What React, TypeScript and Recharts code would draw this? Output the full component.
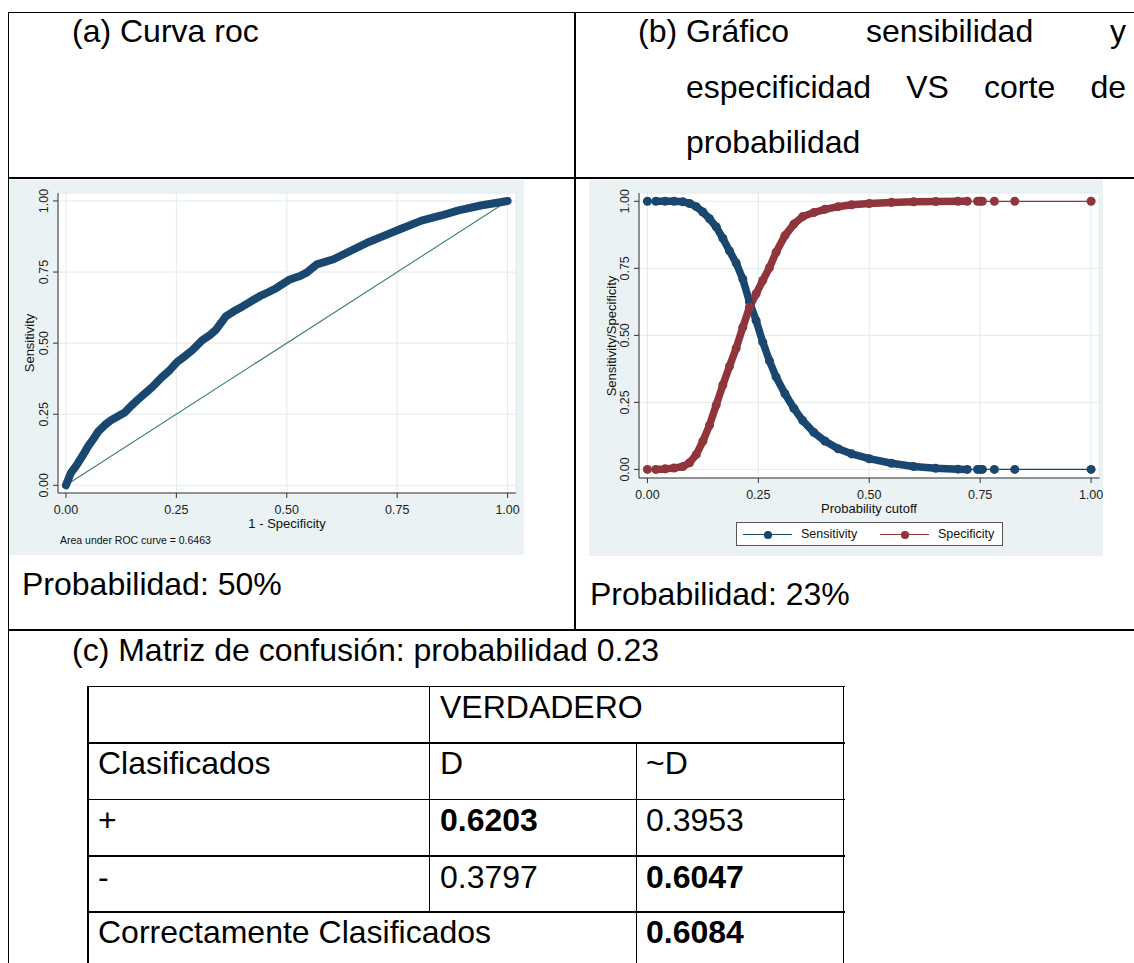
import React from 'react';
import { ScatterChart, Scatter, XAxis, YAxis, ZAxis, CartesianGrid, ReferenceLine, Legend } from 'recharts';

// ROC curve (1 - specificity vs sensitivity)
const rocFpr = [0, 0.005, 0.011, 0.02, 0.027, 0.038, 0.05, 0.062, 0.074, 0.088, 0.103, 0.118, 0.133, 0.148, 0.164, 0.18, 0.195, 0.217, 0.235, 0.252, 0.27, 0.286, 0.309, 0.325, 0.339, 0.362, 0.38, 0.4, 0.42, 0.439, 0.458, 0.477, 0.507, 0.53, 0.545, 0.568, 0.606, 0.645, 0.683, 0.721, 0.759, 0.805, 0.85, 0.889, 0.942, 0.97, 1];
const rocTpr = [0, 0.02, 0.043, 0.062, 0.078, 0.105, 0.137, 0.163, 0.191, 0.212, 0.23, 0.243, 0.256, 0.28, 0.303, 0.325, 0.345, 0.38, 0.405, 0.434, 0.455, 0.475, 0.511, 0.527, 0.546, 0.594, 0.612, 0.629, 0.648, 0.665, 0.679, 0.694, 0.724, 0.736, 0.748, 0.777, 0.795, 0.825, 0.854, 0.878, 0.902, 0.931, 0.949, 0.967, 0.985, 0.992, 1];

// sensitivity / specificity vs probability cutoff
const cutoffs = [0, 0.019, 0.04, 0.06, 0.08, 0.095, 0.11, 0.125, 0.14, 0.155, 0.17, 0.185, 0.2, 0.215, 0.23, 0.245, 0.26, 0.275, 0.29, 0.31, 0.33, 0.35, 0.375, 0.4, 0.43, 0.46, 0.5, 0.55, 0.6, 0.65, 0.7, 0.721, 0.744, 0.751, 0.755, 0.782, 0.828, 1];
const sensitivity = [1, 1, 1, 1, 0.998, 0.992, 0.98, 0.96, 0.935, 0.905, 0.862, 0.815, 0.77, 0.71, 0.625, 0.555, 0.475, 0.405, 0.345, 0.282, 0.228, 0.182, 0.138, 0.106, 0.077, 0.058, 0.04, 0.023, 0.011, 0.004, 0.001, 0, 0, 0, 0, 0, 0, 0];
const specificity = [0, 0, 0.002, 0.005, 0.011, 0.025, 0.055, 0.105, 0.165, 0.24, 0.315, 0.385, 0.452, 0.53, 0.605, 0.655, 0.705, 0.752, 0.81, 0.872, 0.915, 0.943, 0.958, 0.97, 0.98, 0.987, 0.992, 0.996, 0.998, 0.999, 1, 1, 1, 1, 1, 1, 1, 1];

const axisTicks = [0, 0.25, 0.5, 0.75, 1];

const legendItems = [
  { name: 'Sensitivity', color: '#1A476F' },
  { name: 'Specificity', color: '#90353B' },
];

// confusion matrix at cutoff 0.23
const matrixCols = ['D', '~D'];
const matrixRows = [
  { label: '+', values: ['0.6203', '0.3953'], bold: [true, false] },
  { label: '-', values: ['0.3797', '0.6047'], bold: [false, true] },
];
const correctLabel = 'Correctamente Clasificados';
const correctValue = '0.6084';

const NAVY = '#1A476F';
const MAROON = '#90353B';
const BG = '#EAF2F3';
const FONT = '"Liberation Sans", Arial, sans-serif';
const BODY_SIZE = 32;

const rocData = rocFpr.map((x, i) => ({ x, y: rocTpr[i] }));
const sensData = cutoffs.map((x, i) => ({ x, y: sensitivity[i] }));
const specData = cutoffs.map((x, i) => ({ x, y: specificity[i] }));
const dense = (d: { x: number; y: number }[]) => d.filter(p => p.x >= 0.019 && p.x <= 0.721);

const NoDot = () => <g />;

const RotTick = ({ x, y, payload }: any) => (
  <text x={x} y={y} transform={`rotate(-90 ${x} ${y})`} textAnchor="middle" fontSize={12.5} fill="#222" fontFamily={FONT}>
    {Number(payload.value).toFixed(2)}
  </text>
);

const Para = ({ x, cy, bold, children }: any) => (
  <div style={{ position: 'absolute', left: x, top: cy - 20, height: 40, lineHeight: '40px', fontSize: BODY_SIZE, whiteSpace: 'nowrap', fontWeight: bold ? 700 : 400 }}>
    {children}
  </div>
);

const Justified = ({ x, cy, width, children }: any) => (
  <div style={{ position: 'absolute', left: x, top: cy - 20, width, height: 40, lineHeight: '40px', fontSize: BODY_SIZE, textAlign: 'justify', textAlignLast: 'justify' as any }}>
    {children}
  </div>
);

const AxisTitle = ({ cx, cy, rotate, size = 13, children }: any) => (
  <div style={{ position: 'absolute', left: cx, top: cy, fontSize: size, lineHeight: 1, whiteSpace: 'nowrap', color: '#111', transform: `translate(-50%, -50%)${rotate ? ' rotate(-90deg)' : ''}` }}>
    {children}
  </div>
);

const Rule = ({ x, y, w, h }: any) => (
  <div style={{ position: 'absolute', left: x, top: y, width: w, height: h, background: '#000' }} />
);

const LegendBox = () => (
  <div style={{ position: 'relative', width: 267, height: 24, boxSizing: 'border-box', border: '1px solid #555', background: '#fff', fontFamily: FONT, fontSize: 12.5, color: '#111' }}>
    {legendItems.map((it, i) => {
      const left = i === 0 ? 6 : 143;
      return (
        <React.Fragment key={it.name}>
          <div style={{ position: 'absolute', left, top: 11, width: 49, height: 1.2, background: it.color }} />
          <div style={{ position: 'absolute', left: left + 21, top: 8, width: 7.5, height: 7.5, borderRadius: '50%', background: it.color }} />
          <div style={{ position: 'absolute', left: left + 58, top: 4, lineHeight: '14px' }}>{it.name}</div>
        </React.Fragment>
      );
    })}
  </div>
);

const xAxisProps = {
  type: 'number' as const,
  dataKey: 'x',
  ticks: axisTicks,
  allowDataOverflow: true,
  tickFormatter: (v: number) => v.toFixed(2),
  tick: { fill: '#222', fontSize: 12.5, fontFamily: FONT },
  tickSize: 5,
  tickMargin: 7,
  height: 30,
  axisLine: { stroke: '#333' },
  tickLine: { stroke: '#333' },
};

const yAxisProps = {
  type: 'number' as const,
  dataKey: 'y',
  ticks: axisTicks,
  allowDataOverflow: true,
  tick: <RotTick />,
  tickSize: 5,
  tickMargin: 5,
  axisLine: { stroke: '#333' },
  tickLine: { stroke: '#333' },
};

export default function App() {
  return (
    <div style={{ position: 'absolute', left: 0, top: 0, width: 1134, height: 963, overflow: 'hidden', background: '#fff', fontFamily: FONT, color: '#000' }}>
      {/* outer table rules */}
      <Rule x={7.5} y={11.5} w={1127} h={1.6} />
      <Rule x={7.5} y={176.5} w={1127} h={2} />
      <Rule x={7.5} y={629} w={1127} h={2} />
      <Rule x={7.5} y={11.5} w={1.6} h={952} />
      <Rule x={574.3} y={11.5} w={1.7} h={619} />

      {/* header cells */}
      <Para x={72} cy={31}>(a) Curva roc</Para>
      <Para x={638} cy={31}>(b)</Para>
      <Justified x={686} cy={31} width={440}>Gráfico sensibilidad y</Justified>
      <Justified x={686} cy={87} width={440}>especificidad VS corte de</Justified>
      <Para x={686} cy={142}>probabilidad</Para>

      {/* (a) ROC curve */}
      <div style={{ position: 'absolute', left: 9, top: 180, width: 515, height: 375, background: BG }}>
        <ScatterChart width={515} height={375} margin={{ top: 13, right: 8, bottom: 32, left: 0 }}>
          <CartesianGrid stroke="#E2EAEC" fill="#fff" />
          <XAxis {...xAxisProps} domain={[-0.018, 1.019]} />
          <YAxis {...yAxisProps} width={49} domain={[-0.027, 1.028]} />
          <ZAxis range={[44, 44]} />
          <ReferenceLine segment={[{ x: 0, y: 0 }, { x: 1, y: 1 }]} stroke="#3F7F72" strokeWidth={1.1} />
          <Scatter data={rocData} fill={NAVY} shape={<NoDot />} line={{ stroke: NAVY, strokeWidth: 8, strokeLinejoin: 'round', strokeLinecap: 'round' }} isAnimationActive={false} />
        </ScatterChart>
      </div>
      <AxisTitle cx={28.5} cy={343} rotate>Sensitivity</AxisTitle>
      <AxisTitle cx={287} cy={523}>1 - Specificity</AxisTitle>
      <div style={{ position: 'absolute', left: 60, top: 534, fontSize: 10.5, lineHeight: '12px', color: '#111', whiteSpace: 'nowrap' }}>
        Area under ROC curve = 0.6463
      </div>

      {/* (b) sensitivity / specificity vs cutoff */}
      <div style={{ position: 'absolute', left: 589, top: 180, width: 514, height: 376, background: BG }}>
        <ScatterChart width={514} height={376} margin={{ top: 13, right: 3.5, bottom: 48, left: 0 }}>
          <CartesianGrid stroke="#E2EAEC" fill="#fff" />
          <XAxis {...xAxisProps} domain={[-0.019, 1.019]} />
          <YAxis {...yAxisProps} width={50} domain={[-0.032, 1.031]} />
          <ZAxis range={[44, 44]} />
          <Scatter data={dense(sensData)} fill={NAVY} shape={<NoDot />} legendType="none" line={{ stroke: NAVY, strokeWidth: 7.5, strokeLinejoin: 'round', strokeLinecap: 'round' }} isAnimationActive={false} />
          <Scatter data={dense(specData)} fill={MAROON} shape={<NoDot />} legendType="none" line={{ stroke: MAROON, strokeWidth: 7.5, strokeLinejoin: 'round', strokeLinecap: 'round' }} isAnimationActive={false} />
          <Scatter name="Sensitivity" data={sensData} fill={NAVY} shape="circle" line={{ stroke: NAVY, strokeWidth: 1.2 }} isAnimationActive={false} />
          <Scatter name="Specificity" data={specData} fill={MAROON} shape="circle" line={{ stroke: MAROON, strokeWidth: 1.2 }} isAnimationActive={false} />
          <Legend layout="vertical" align="center" verticalAlign="middle" wrapperStyle={{ left: 147, top: 342, width: 267, height: 24 }} content={<LegendBox />} />
        </ScatterChart>
      </div>
      <AxisTitle cx={610.5} cy={335.5} rotate>Sensitivity/Specificity</AxisTitle>
      <AxisTitle cx={869} cy={507.5}>Probability cutoff</AxisTitle>

      {/* probability notes */}
      <Para x={22} cy={584}>Probabilidad: 50%</Para>
      <Para x={590} cy={594}>Probabilidad: 23%</Para>

      {/* (c) confusion matrix */}
      <Para x={72} cy={650}>(c) Matriz de confusión: probabilidad 0.23</Para>
      <Rule x={87} y={685.7} w={757.5} h={1.7} />
      <Rule x={87} y={742.3} w={757.5} h={1.7} />
      <Rule x={87} y={798.5} w={757.5} h={1.7} />
      <Rule x={87} y={855} w={757.5} h={1.7} />
      <Rule x={87} y={911} w={757.5} h={1.7} />
      <Rule x={87} y={685.7} w={1.7} h={280} />
      <Rule x={428.7} y={685.7} w={1.7} h={227} />
      <Rule x={635.5} y={742.3} w={1.7} h={225} />
      <Rule x={842.8} y={685.7} w={1.7} h={280} />

      <Para x={440} cy={707}>VERDADERO</Para>
      <Para x={98} cy={763}>Clasificados</Para>
      <Para x={440} cy={763}>{matrixCols[0]}</Para>
      <Para x={646} cy={763}>{matrixCols[1]}</Para>
      {matrixRows.map((r, i) => (
        <React.Fragment key={r.label}>
          <Para x={98} cy={820 + i * 56.5}>{r.label}</Para>
          <Para x={440} cy={820 + i * 56.5} bold={r.bold[0]}>{r.values[0]}</Para>
          <Para x={646} cy={820 + i * 56.5} bold={r.bold[1]}>{r.values[1]}</Para>
        </React.Fragment>
      ))}
      <Para x={98} cy={932}>{correctLabel}</Para>
      <Para x={646} cy={932} bold>{correctValue}</Para>
    </div>
  );
}
